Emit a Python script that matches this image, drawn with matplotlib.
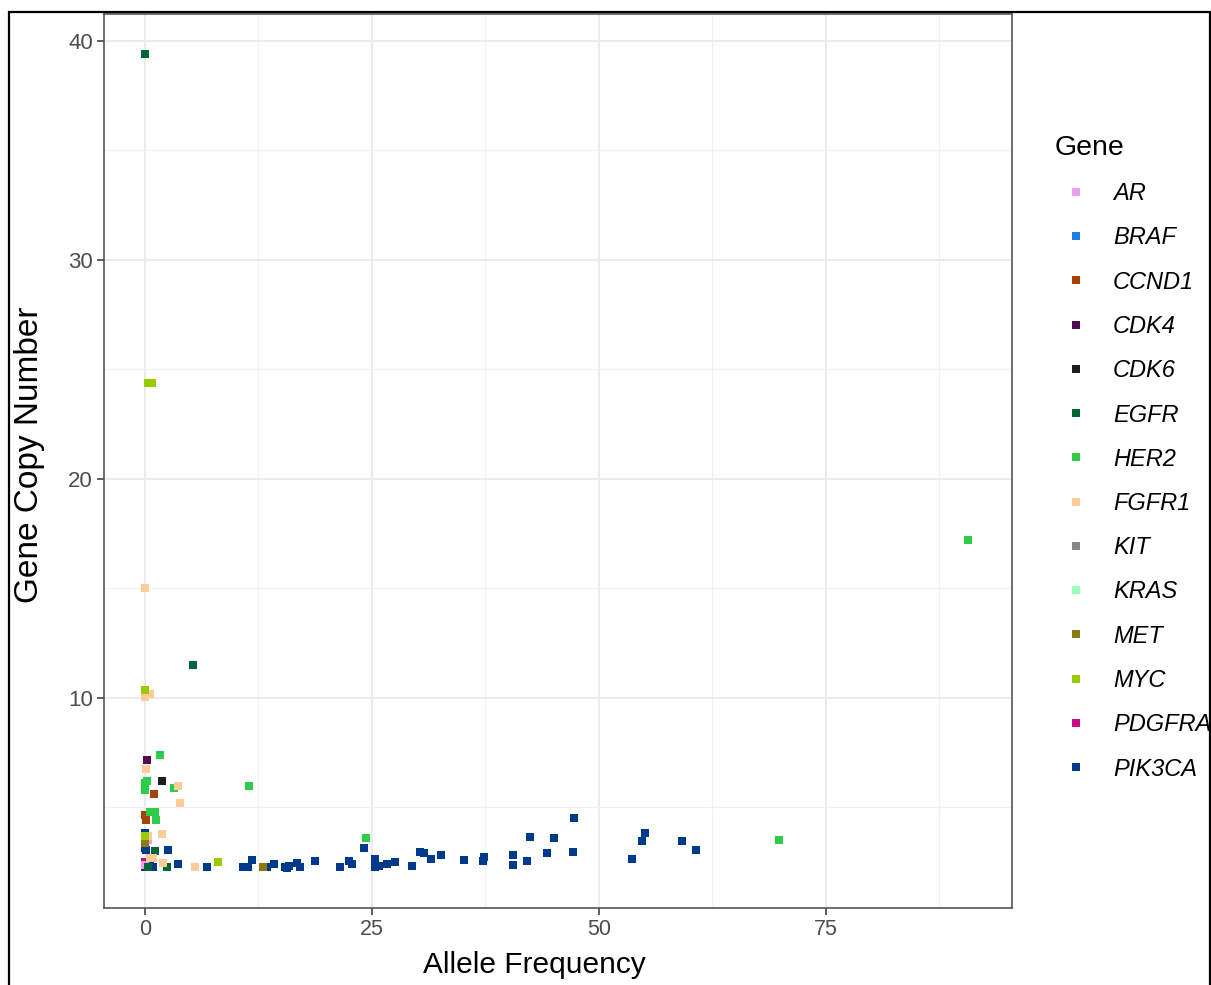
import matplotlib.pyplot as plt
from matplotlib.lines import Line2D
from matplotlib.patches import Rectangle
from matplotlib.ticker import MultipleLocator

plt.rcParams['font.family'] = ['Liberation Sans', 'DejaVu Sans']

# Datos: frecuencia alélica (x) y número de copias (y) por gen
genes = ['AR', 'BRAF', 'CCND1', 'CDK4', 'CDK6', 'EGFR', 'HER2', 'FGFR1',
         'KIT', 'KRAS', 'MET', 'MYC', 'PDGFRA', 'PIK3CA']
colors = ['#EE9EEE', '#1F7FE0', '#A3420B', '#520A52', '#1E1E1E', '#00663A',
          '#2ECC4A', '#FFCB99', '#888888', '#99FFBB', '#8C7A10', '#99CC00',
          '#CC0A88', '#003A8A']

ar_x = [0.0, 0.3]
ar_y = [2.37, 3.5]
braf_x = [0.05]
braf_y = [2.35]
ccnd1_x = [1.0, 0.0, 0.1]
ccnd1_y = [5.6, 4.65, 4.45]
cdk4_x = [0.2]
cdk4_y = [7.15]
cdk6_x = [1.9]
cdk6_y = [6.2]
egfr_x = [0.0, 5.3, 1.1, 0.3, 2.4]
egfr_y = [39.4, 11.5, 3.0, 2.3, 2.3]
her2_x = [1.7, 0.0, 0.2, 0.0, 11.5, 3.2, 0.55, 1.1, 1.2, 24.4, 69.8, 90.6]
her2_y = [7.4, 6.1, 6.2, 5.8, 6.0, 5.9, 4.8, 4.8, 4.45, 3.6, 3.5, 17.2]
fgfr1_x = [0.0, 0.6, 0.0, 0.1, 3.7, 3.85, 1.9, 0.4, 0.55, 0.9, 2.0, 5.5]
fgfr1_y = [15.0, 10.2, 10.05, 6.75, 6.0, 5.2, 3.8, 3.7, 2.7, 2.7, 2.45, 2.3]
kit_x = [0.1]
kit_y = [2.4]
kras_x = [0.0]
kras_y = [3.1]
met_x = [13.0, 0.0]
met_y = [2.3, 3.4]
myc_x = [0.4, 0.8, 0.0, 0.0, 8.1]
myc_y = [24.4, 24.4, 10.35, 3.7, 2.5]
pdgfra_x = [0.05]
pdgfra_y = [2.5]
pik3ca_x = [0.0, 0.0, 0.1, 0.0, 0.9, 0.55, 2.5, 3.7, 6.8, 10.8, 11.4, 11.8,
            13.4, 14.2, 15.6, 15.4, 15.9, 16.8, 17.1, 18.7, 21.5, 22.5, 22.8,
            24.1, 25.3, 25.3, 25.8, 26.7, 27.5, 29.4, 30.3, 30.7, 31.5, 32.6,
            35.1, 37.2, 37.4, 40.5, 40.5, 42.1, 42.4, 44.3, 45.1, 47.2, 47.3,
            53.7, 54.7, 55.1, 59.2, 60.7]
pik3ca_y = [3.82, 3.13, 3.05, 2.3, 2.3, 2.57, 3.06, 2.42, 2.3, 2.3, 2.3, 2.6,
            2.3, 2.42, 2.22, 2.27, 2.33, 2.45, 2.27, 2.56, 2.3, 2.56, 2.43,
            3.14, 2.65, 2.27, 2.34, 2.43, 2.51, 2.34, 2.98, 2.94, 2.66, 2.84,
            2.6, 2.56, 2.75, 2.83, 2.37, 2.56, 3.67, 2.94, 3.6, 2.98, 4.54,
            2.66, 3.45, 3.85, 3.45, 3.06]

data = {
    'AR': (ar_x, ar_y), 'BRAF': (braf_x, braf_y), 'CCND1': (ccnd1_x, ccnd1_y),
    'CDK4': (cdk4_x, cdk4_y), 'CDK6': (cdk6_x, cdk6_y), 'EGFR': (egfr_x, egfr_y),
    'HER2': (her2_x, her2_y), 'FGFR1': (fgfr1_x, fgfr1_y), 'KIT': (kit_x, kit_y),
    'KRAS': (kras_x, kras_y), 'MET': (met_x, met_y), 'MYC': (myc_x, myc_y),
    'PDGFRA': (pdgfra_x, pdgfra_y), 'PIK3CA': (pik3ca_x, pik3ca_y),
}
color_map = dict(zip(genes, colors))

W, H = 1211, 985
fig = plt.figure(figsize=(W / 100, H / 100), dpi=100)
ax = fig.add_axes([104 / W, 1 - 908 / H, (1012 - 104) / W, (908 - 14) / H])

# orden de dibujo: genes ocultos primero, luego PIK3CA, luego el resto
hidden = ['BRAF', 'KIT', 'KRAS', 'PDGFRA']
order = hidden + ['PIK3CA'] + [g for g in genes if g not in hidden and g != 'PIK3CA']
for g in order:
    gx, gy = data[g]
    ax.scatter(gx, gy, marker='s', s=26, color=color_map[g], linewidths=0, zorder=3)

ax.set_xlim(-4.5, 95.5)
ax.set_ylim(0.41, 41.23)
ax.xaxis.set_major_locator(MultipleLocator(25))
ax.xaxis.set_minor_locator(MultipleLocator(12.5))
ax.yaxis.set_major_locator(MultipleLocator(10))
ax.yaxis.set_minor_locator(MultipleLocator(5))
ax.set_xticks([0, 25, 50, 75])
ax.grid(True, which='major', color='#EBEBEB', linewidth=1.4, zorder=0)
ax.grid(True, which='minor', color='#F2F2F2', linewidth=0.8, zorder=0)
ax.set_axisbelow(True)
ax.tick_params(which='major', length=5, width=1.1, color='#333333',
               labelcolor='#4D4D4D', pad=3)
ax.tick_params(axis='x', which='major', labelsize=15.5)
ax.tick_params(axis='y', which='major', labelsize=16)
ax.tick_params(which='minor', length=0)
for sp in ax.spines.values():
    sp.set_color('#555555')
    sp.set_linewidth(1.2)

# títulos de ejes colocados a mano (posición de la captura original)
fig.text(534 / W, 1 - 965 / H, 'Allele Frequency', fontsize=21.5,
         ha='center', va='center')
fig.text(30 / W, 1 - 455 / H, 'Gene Copy Number', fontsize=24,
         ha='center', va='center', rotation=90)

handles = [Line2D([], [], marker='s', linestyle='none', markersize=5.5,
                  markerfacecolor=color_map[g], markeredgewidth=0) for g in genes]
leg = fig.legend(handles, genes, loc='upper left', bbox_to_anchor=(1055 / W, 1 - 135 / H),
                 frameon=False, title='Gene', title_fontsize=20.5,
                 prop={'style': 'italic', 'size': 17}, alignment='left',
                 handlelength=1.75, handletextpad=0.7, labelspacing=0.90,
                 borderaxespad=0, borderpad=0)

# marco negro exterior de la captura
fig.patches.append(Rectangle((9 / W, -0.05), (1210 - 9) / W, 1.05 - 12 / H,
                             transform=fig.transFigure, fill=False,
                             edgecolor='black', linewidth=1.6, clip_on=False))

fig.savefig('out.png', dpi=100)
